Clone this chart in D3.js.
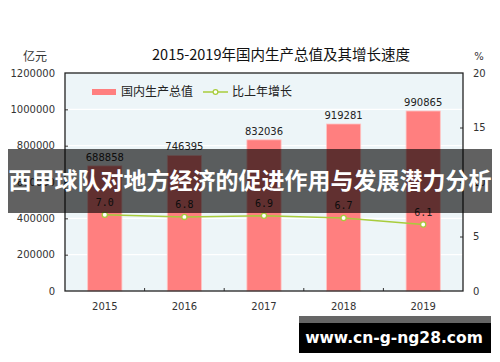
<!DOCTYPE html>
<html>
<head>
<meta charset="utf-8">
<script src="https://cdn.jsdelivr.net/npm/d3@7"></script>
<style>
  body { margin: 0; background: #fff; }
  svg { display: block; }
</style>
</head>
<body>
<div id="chart"></div>
<script>
const years = ["2015", "2016", "2017", "2018", "2019"];
const gdp = [688858, 746395, 832036, 919281, 990865];
const growth = [7.0, 6.8, 6.9, 6.7, 6.1];
const leftTicks = [0, 200000, 400000, 600000, 800000, 1000000, 1200000];
const rightTicks = [0, 5, 10, 15, 20];

const colors = {
  plotBg: "#edf5f8",
  bar: "#ff7f7f",
  line: "#a8cc3c",
  text: "#333333"
};

const W = 500, H = 362;
const plot = { left: 65, right: 463, top: 73, bottom: 291 };
const cjk = "'Noto Sans CJK SC', sans-serif";
const num = "'DejaVu Sans', sans-serif";

const svg = d3.select("#chart").append("svg")
  .attr("width", W)
  .attr("height", H);

// scales
const x = d3.scaleBand()
  .domain(years)
  .range([plot.left, plot.right])
  .paddingInner(0.57)
  .paddingOuter(0.285);
const band = d3.scaleBand().domain(years).range([plot.left, plot.right]);

const yL = d3.scaleLinear().domain([0, 1200000]).range([plot.bottom, plot.top]);
const yR = d3.scaleLinear().domain([0, 20]).range([plot.bottom, plot.top]);

// plot background
svg.append("rect")
  .attr("x", plot.left).attr("y", plot.top)
  .attr("width", plot.right - plot.left)
  .attr("height", plot.bottom - plot.top)
  .attr("fill", colors.plotBg);

// white gridlines
svg.append("g")
  .selectAll("line")
  .data(leftTicks.slice(1, -1))
  .join("line")
  .attr("x1", plot.left).attr("x2", plot.right)
  .attr("y1", d => yL(d)).attr("y2", d => yL(d))
  .attr("stroke", "#ffffff")
  .attr("stroke-width", 1.2);

// bars
svg.append("g")
  .selectAll("rect")
  .data(gdp)
  .join("rect")
  .attr("x", (d, i) => x(years[i]))
  .attr("y", d => yL(d))
  .attr("width", x.bandwidth())
  .attr("height", d => plot.bottom - yL(d))
  .attr("fill", colors.bar)
  .attr("stroke", "#ffc6c6")
  .attr("stroke-width", 0.8);

// bar labels
svg.append("g")
  .selectAll("text")
  .data(gdp)
  .join("text")
  .attr("x", (d, i) => x(years[i]) + x.bandwidth() / 2)
  .attr("y", d => yL(d) - 5)
  .attr("text-anchor", "middle")
  .attr("fill", "#222")
  .style("font-family", num)
  .style("font-size", "10px")
  .text(d => d);

// growth line
const cx = i => x(years[i]) + x.bandwidth() / 2;
svg.append("path")
  .datum(growth)
  .attr("d", d3.line().x((d, i) => cx(i)).y(d => yR(d)))
  .attr("fill", "none")
  .attr("stroke", colors.line)
  .attr("stroke-width", 1.5);

svg.append("g")
  .selectAll("circle")
  .data(growth)
  .join("circle")
  .attr("cx", (d, i) => cx(i))
  .attr("cy", d => yR(d))
  .attr("r", 2.6)
  .attr("fill", "#ffffff")
  .attr("stroke", colors.line)
  .attr("stroke-width", 1.3);

svg.append("g")
  .selectAll("text")
  .data(growth)
  .join("text")
  .attr("x", (d, i) => cx(i))
  .attr("y", d => yR(d) - 9)
  .attr("text-anchor", "middle")
  .attr("fill", "#222")
  .style("font-family", "'DejaVu Sans Mono', monospace")
  .style("font-size", "10px")
  .text(d => d.toFixed(1));

// axes
const axL = svg.append("g")
  .attr("transform", `translate(${plot.left},0)`)
  .call(d3.axisLeft(yL).tickValues(leftTicks).tickSize(-3).tickPadding(10).tickFormat(d3.format("d")));
const axR = svg.append("g")
  .attr("transform", `translate(${plot.right},0)`)
  .call(d3.axisRight(yR).tickValues(rightTicks).tickSize(-3).tickPadding(10));
const axB = svg.append("g")
  .attr("transform", `translate(0,${plot.bottom})`)
  .call(d3.axisBottom(x).tickSize(0).tickPadding(12));

[axL, axR, axB].forEach(g => {
  g.select(".domain").remove();
  g.selectAll("text")
    .attr("fill", colors.text)
    .style("font-family", num)
    .style("font-size", "10px");
  g.selectAll(".tick line").attr("stroke", "#333");
});
// hide end ticks on the value axes
axL.selectAll(".tick line").filter(d => d === 0 || d === 1200000).remove();
axR.selectAll(".tick line").filter(d => d === 0 || d === 20).remove();

// category boundary ticks on bottom
svg.append("g")
  .selectAll("line")
  .data(years.slice(1))
  .join("line")
  .attr("x1", d => band(d)).attr("x2", d => band(d))
  .attr("y1", plot.bottom).attr("y2", plot.bottom - 3)
  .attr("stroke", "#333");

// frame
svg.append("rect")
  .attr("x", plot.left).attr("y", plot.top)
  .attr("width", plot.right - plot.left)
  .attr("height", plot.bottom - plot.top)
  .attr("fill", "none")
  .attr("stroke", "#222")
  .attr("stroke-width", 1.3);

// axis units
svg.append("text")
  .attr("x", 35).attr("y", 61)
  .attr("text-anchor", "middle")
  .attr("fill", colors.text)
  .style("font-family", cjk).style("font-size", "12px")
  .text("亿元");
svg.append("text")
  .attr("x", 479).attr("y", 60)
  .attr("text-anchor", "middle")
  .attr("fill", colors.text)
  .style("font-family", num).style("font-size", "10px")
  .text("%");

// title
svg.append("text")
  .attr("x", 281).attr("y", 60)
  .attr("text-anchor", "middle")
  .attr("fill", "#111")
  .style("font-family", cjk).style("font-size", "14.5px")
  .text("2015-2019年国内生产总值及其增长速度");

// legend
const lg = svg.append("g").attr("transform", "translate(92,92)");
lg.append("rect")
  .attr("x", 0).attr("y", -3).attr("width", 24).attr("height", 6)
  .attr("fill", colors.bar);
lg.append("text")
  .attr("x", 29).attr("y", 4)
  .attr("fill", "#222")
  .style("font-family", cjk).style("font-size", "12px")
  .text("国内生产总值");
lg.append("line")
  .attr("x1", 111).attr("x2", 136).attr("y1", 0).attr("y2", 0)
  .attr("stroke", colors.line).attr("stroke-width", 1.5);
lg.append("circle")
  .attr("cx", 123.5).attr("cy", 0).attr("r", 2.4)
  .attr("fill", "#fff").attr("stroke", colors.line).attr("stroke-width", 1.2);
lg.append("text")
  .attr("x", 140).attr("y", 4)
  .attr("fill", "#222")
  .style("font-family", cjk).style("font-size", "12px")
  .text("比上年增长");

// overlay banner
svg.append("rect")
  .attr("x", 8).attr("y", 149)
  .attr("width", 484).attr("height", 64)
  .attr("fill", "#000")
  .attr("fill-opacity", 0.62);
svg.append("text")
  .attr("x", 250).attr("y", 189)
  .attr("text-anchor", "middle")
  .attr("fill", "#fff")
  .style("font-family", cjk).style("font-size", "23px").style("font-weight", "bold")
  .text("西甲球队对地方经济的促进作用与发展潜力分析");

// watermark
svg.append("rect")
  .attr("x", 299).attr("y", 316).attr("width", 192).attr("height", 37)
  .attr("fill", "#000");
svg.append("rect")
  .attr("x", 299).attr("y", 316).attr("width", 192).attr("height", 7)
  .attr("fill", "#666");
svg.append("text")
  .attr("x", 394).attr("y", 343)
  .attr("text-anchor", "middle")
  .attr("fill", "#fff")
  .style("font-family", "'DejaVu Sans', sans-serif").style("font-size", "15.5px").style("font-weight", "bold")
  .text("www.cn-g-ng28.com");
</script>
</body>
</html>
